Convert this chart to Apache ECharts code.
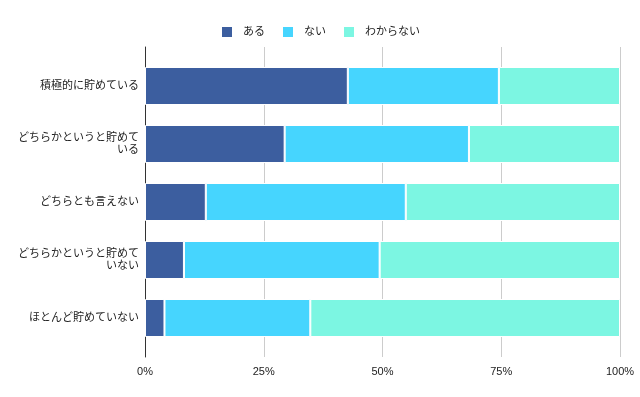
<!DOCTYPE html>
<html><head><meta charset="utf-8">
<script src="https://cdn.jsdelivr.net/npm/echarts@6/dist/echarts.min.js"></script>
<style>html,body{margin:0;padding:0;background:#fff}#c{width:640px;height:397px}</style>
</head><body><div id="c"></div>
<script>
var categories = ['積極的に貯めている','どちらかというと貯めている','どちらとも言えない','どちらかというと貯めていない','ほとんど貯めていない'];
var seriesNames = ['ある','ない','わからない'];
var aru = [42.7, 29.4, 12.8, 8.2, 4.1];
var nai = [31.8, 38.8, 42.1, 41.2, 30.7];
var wakaranai = [25.5, 31.8, 45.1, 50.6, 65.2];
var xTicks = [0, 25, 50, 75, 100];
var colors = ['#3c5e9f', '#46d5fe', '#7cf6e2'];

var font = '"Liberation Sans", Arial, "Noto Sans CJK JP", sans-serif';
var chart = echarts.init(document.getElementById('c'), null, {renderer: 'canvas'});
var values = [aru, nai, wakaranai];
var series = seriesNames.map(function (n, i) {
  return {
    name: n, type: 'bar', stack: 'total', xAxisIndex: 1, yAxisIndex: 1,
    barWidth: 38,
    itemStyle: {color: colors[i], borderColor: '#fff', borderWidth: 1},
    data: values[i]
  };
});
chart.setOption({
  animation: false,
  textStyle: {fontFamily: font},
  legend: {
    top: 20, left: 'center', itemWidth: 12, itemHeight: 12, itemGap: 16,
    icon: 'rect',
    textStyle: {fontSize: 11, color: '#222', fontFamily: font, padding: [0, 0, 0, 5]},
    data: seriesNames
  },
  grid: [
    {left: 145, width: 475, top: 47, height: 310},
    {left: 145, width: 475, top: 57, height: 290}
  ],
  xAxis: [
    {gridIndex: 0, type: 'value', min: 0, max: 100, interval: 25,
     axisLine: {show: false}, axisTick: {show: false},
     splitLine: {show: true, lineStyle: {color: '#cccccc', width: 1}},
     axisLabel: {color: '#222', fontSize: 11, margin: 9, fontFamily: font,
       formatter: function (v) { return xTicks.indexOf(v) >= 0 ? v + '%' : ''; }}},
    {gridIndex: 1, type: 'value', min: 0, max: 100, show: false}
  ],
  yAxis: [
    {gridIndex: 0, type: 'category', inverse: true, data: categories,
     axisLine: {show: true, lineStyle: {color: '#333', width: 1}},
     axisTick: {show: false}, axisLabel: {show: false}, splitLine: {show: false}},
    {gridIndex: 1, type: 'category', inverse: true, data: categories,
     axisLine: {show: false}, axisTick: {show: false},
     axisLabel: {color: '#222', fontSize: 11, margin: 6, fontFamily: font,
       width: 124, overflow: 'break', lineHeight: 12, align: 'right'}}
  ],
  series: series
});
</script></body></html>
